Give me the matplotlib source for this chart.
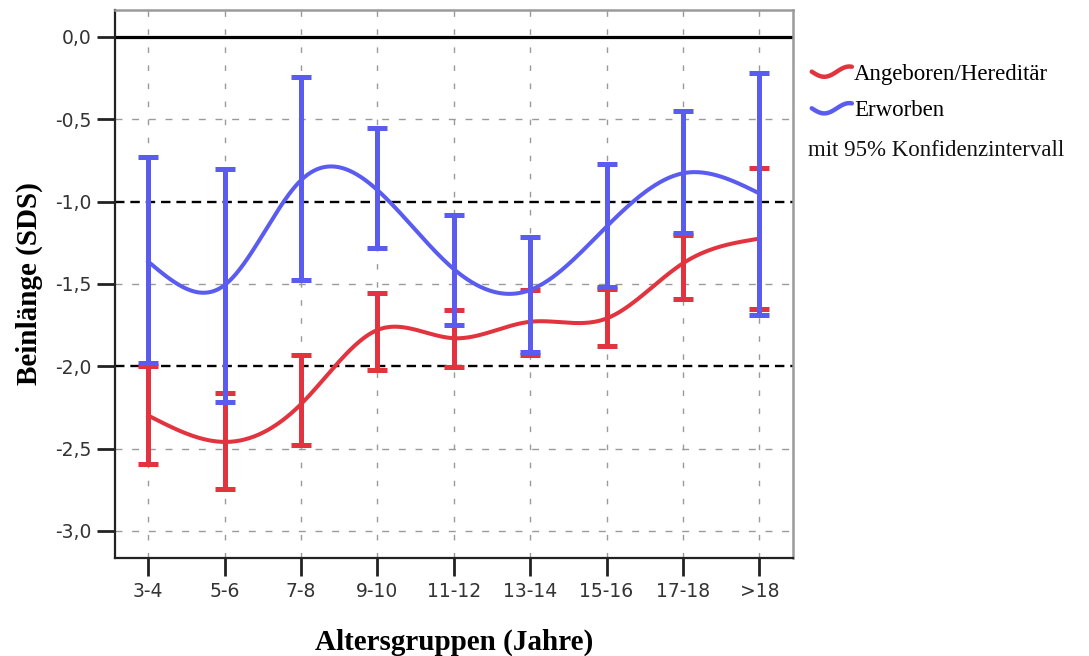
import numpy as np
import matplotlib
matplotlib.use('Agg')
import matplotlib.pyplot as plt
from matplotlib.lines import Line2D
from matplotlib.legend_handler import HandlerBase

# Altersgruppen und Mittelwerte / 95%-KI
groups = ['3-4', '5-6', '7-8', '9-10', '11-12', '13-14', '15-16', '17-18', '>18']

red_mean = [-2.30, -2.46, -2.23, -1.78, -1.83, -1.73, -1.71, -1.375, -1.225]
red_upper = [-2.00, -2.165, -1.93, -1.553, -1.659, -1.537, -1.53, -1.20, -0.794]
red_lower = [-2.594, -2.748, -2.479, -2.023, -2.003, -1.93, -1.88, -1.59, -1.654]

blue_mean = [-1.365, -1.507, -0.87, -0.93, -1.41, -1.537, -1.152, -0.828, -0.95]
blue_upper = [-0.727, -0.80, -0.245, -0.551, -1.081, -1.213, -0.773, -0.448, -0.217]
blue_lower = [-1.979, -2.216, -1.476, -1.284, -1.75, -1.912, -1.517, -1.189, -1.69]

y_ticks = [0.0, -0.5, -1.0, -1.5, -2.0, -2.5, -3.0]

RED = '#e2343e'
BLUE = '#5a5cf0'


def natural_spline(x, y, xs):
    # natürlicher kubischer Spline für die geglättete Linie
    x = np.asarray(x, float)
    y = np.asarray(y, float)
    n = len(x)
    h = np.diff(x)
    A = np.zeros((n, n))
    r = np.zeros(n)
    A[0, 0] = A[-1, -1] = 1
    for i in range(1, n - 1):
        A[i, i - 1] = h[i - 1]
        A[i, i] = 2 * (h[i - 1] + h[i])
        A[i, i + 1] = h[i]
        r[i] = 3 * ((y[i + 1] - y[i]) / h[i] - (y[i] - y[i - 1]) / h[i - 1])
    c = np.linalg.solve(A, r)
    b = (y[1:] - y[:-1]) / h - h * (2 * c[:-1] + c[1:]) / 3
    d = (c[1:] - c[:-1]) / (3 * h)
    idx = np.clip(np.searchsorted(x, xs) - 1, 0, n - 2)
    dx = xs - x[idx]
    return y[idx] + b[idx] * dx + c[idx] * dx ** 2 + d[idx] * dx ** 3


class WaveHandler(HandlerBase):
    def create_artists(self, legend, orig_handle, xdescent, ydescent,
                       width, height, fontsize, trans):
        t = np.linspace(0, 1, 40)
        xx = -xdescent + t * width
        yy = -ydescent + height / 2 + height * 0.32 * np.sin(1.6 * np.pi * t - np.pi)
        ln = Line2D(xx, yy, color=orig_handle.get_color(), lw=3.2,
                    solid_capstyle='round')
        ln.set_transform(trans)
        return [ln]


fig = plt.figure(figsize=(10.89, 6.56), dpi=100)
ax = fig.add_axes([0.1056, 0.1494, 0.6223, 0.8354])

x = np.arange(len(groups))
xs = np.linspace(0, len(groups) - 1, 400)

# Gitter
for xi in x:
    ax.axvline(xi, color='#9a9a9a', lw=1.0, ls=(0, (4, 9)), zorder=0)
for yv in y_ticks:
    if yv not in (0.0, -1.0, -2.0):
        ax.axhline(yv, color='#9a9a9a', lw=1.0, ls=(0, (5, 7)), zorder=0)

ax.axhline(0.0, color='black', lw=2.3, zorder=1)
ax.axhline(-1.0, color='black', lw=1.7, ls=(0, (4, 2.5)), zorder=1)
ax.axhline(-2.0, color='black', lw=1.7, ls=(0, (4, 2.5)), zorder=1)

# rot: Angeboren/Hereditär
rm = np.array(red_mean)
ax.errorbar(x, rm, yerr=[rm - np.array(red_lower), np.array(red_upper) - rm],
            fmt='none', ecolor=RED, elinewidth=3.6, capsize=7.5, capthick=3.6, zorder=3)
line_r, = ax.plot(xs, natural_spline(x, red_mean, xs), color=RED, lw=2.9, zorder=4,
                  label='Angeboren/Hereditär')

# blau: Erworben
bm = np.array(blue_mean)
ax.errorbar(x, bm, yerr=[bm - np.array(blue_lower), np.array(blue_upper) - bm],
            fmt='none', ecolor=BLUE, elinewidth=3.6, capsize=7.5, capthick=3.6, zorder=5)
line_b, = ax.plot(xs, natural_spline(x, blue_mean, xs), color=BLUE, lw=2.9, zorder=6,
                  label='Erworben')

ax.set_xlim(-0.436, len(groups) - 1 + 0.437)
ax.set_ylim(-3.165, 0.164)
ax.set_xticks(x)
ax.set_xticklabels(groups)
ax.set_yticks(y_ticks)
ax.set_yticklabels([f'{v:.1f}'.replace('.', ',') if v != 0 else '0,0' for v in y_ticks])
ax.tick_params(axis='both', length=13, width=2, color='#222222',
               labelsize=13.5, labelcolor='#333333', direction='out', pad=4)
for lab in ax.get_xticklabels() + ax.get_yticklabels():
    lab.set_family('DejaVu Sans')

for s in ('left', 'bottom'):
    ax.spines[s].set_color('#222222')
    ax.spines[s].set_linewidth(1.6)
for s in ('top', 'right'):
    ax.spines[s].set_color('#9a9a9a')
    ax.spines[s].set_linewidth(1.8)

ax.set_xlabel('Altersgruppen (Jahre)', fontsize=21, fontweight='bold',
              family='Liberation Serif', labelpad=20)
ax.set_ylabel('Beinlänge (SDS)', fontsize=21, fontweight='bold',
              family='Liberation Serif', labelpad=9)

leg = fig.legend(handles=[line_r, line_b], loc='upper left',
                 bbox_to_anchor=(0.737, 0.917), frameon=False,
                 handler_map={Line2D: WaveHandler()},
                 prop={'family': 'Liberation Serif', 'size': 16.5},
                 handlelength=1.75, handletextpad=0.1, labelspacing=0.68,
                 borderaxespad=0)
fig.text(0.742, 0.771, 'mit 95% Konfidenzintervall', family='Liberation Serif',
         fontsize=16.5, va='center', ha='left', color='#111111')

fig.savefig('out.png', dpi=100)
